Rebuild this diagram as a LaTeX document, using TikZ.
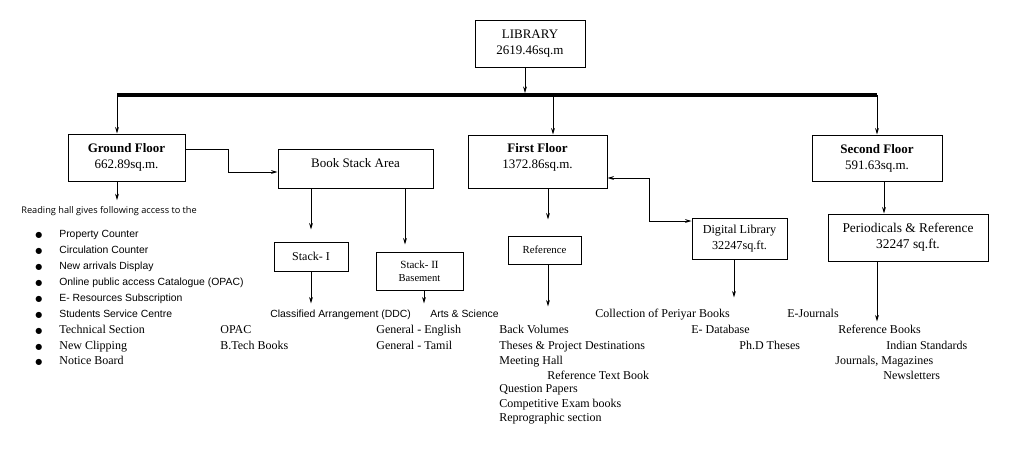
\documentclass[tikz,border=0pt]{standalone}
\usepackage{fontspec}
\setmainfont{Liberation Serif}
\setsansfont{Liberation Sans}
\newfontfamily\opensans{Open Sans}
\newfontfamily\dejavu{DejaVu Sans}
\usetikzlibrary{arrows.meta}

\newcommand{\itm}[1]{\makebox[24pt][l]{\dejavu\fontsize{8}{9}\selectfont ●}#1}

\begin{document}
\begin{tikzpicture}[x=1pt, y=-1pt, >={Stealth[length=6.5pt,width=3.8pt]}, line width=0.7pt,
  box/.style = {draw, line width=1pt, align=center, inner sep=0pt, font=\fontsize{13}{16}\selectfont},
  txt/.style = {anchor=west, inner sep=0pt, text height=12pt, text depth=2.5pt, font=\fontsize{12}{14}\selectfont},
  stxt/.style = {txt, font=\sffamily\fontsize{10.4}{12}\selectfont},
  bar/.style = {line width=4pt}]
    \useasboundingbox (0,0) rectangle (1030,456);
    % boxes
    \node[box, minimum width=110pt, minimum height=47pt] (lib) at (530,43.5) {LIBRARY\\2619.46sq.m};
    \node[box, minimum width=117pt, minimum height=47pt] (gf) at (126.5,157.5) {\textbf{Ground Floor}\\662.89sq.m.};
    \node[box, minimum width=155pt, minimum height=39pt, text depth=12pt] (bsa) at (355.5,168.5) {Book Stack Area};
    \node[box, minimum width=74pt, minimum height=29pt, font=\fontsize{12}{14}\selectfont] (s1) at (311,256.5) {Stack- I};
    \node[box, minimum width=87pt, minimum height=38pt, font=\fontsize{11}{13}\selectfont] (s2) at (419.5,271) {Stack- II\\{\fontsize{10.6}{13}\selectfont Basement}};
    \node[box, minimum width=139pt, minimum height=53pt, text depth=12pt] (ff) at (537.5,161.5) {\textbf{First Floor}\\1372.86sq.m.};
    \node[box, minimum width=73pt, minimum height=28pt, font=\fontsize{10.8}{13}\selectfont] (ref) at (544.5,250) {Reference};
    \node[box, minimum width=95pt, minimum height=41pt, font=\fontsize{12.2}{16}\selectfont] (dl) at (739.5,238.5) {Digital Library\\32247sq.ft.};
    \node[box, minimum width=130pt, minimum height=46pt] (sf) at (877,158) {\textbf{Second Floor}\\591.63sq.m.};
    \node[box, minimum width=160pt, minimum height=47pt, font=\fontsize{13.4}{16}\selectfont] (per) at (908,237.5) {Periodicals \& Reference\\32247 sq.ft.};
    % ground floor list
    \node[txt, font=\opensans\fontsize{9.2}{11}\selectfont, text height=9pt, text depth=2pt] (rh) at (21,210) {Reading hall gives following access to the};
    \node[stxt] (g1) at (35,233) {\itm{Property Counter}};
    \node[stxt] (g2) at (35,249) {\itm{Circulation Counter}};
    \node[stxt] (g3) at (35,265) {\itm{New arrivals Display}};
    \node[stxt] (g4) at (35,281) {\itm{Online public access Catalogue (OPAC)}};
    \node[stxt] (g5) at (35,297) {\itm{E- Resources Subscription}};
    \node[stxt] (g6) at (35,313) {\itm{Students Service Centre}};
    \node[txt] (g7) at (35,329) {\itm{Technical Section}};
    \node[txt] (g8) at (35,345) {\itm{New Clipping}};
    \node[txt] (g9) at (35,360) {\itm{Notice Board}};
    % stacks
    \node[stxt] (cls) at (270,313) {Classified Arrangement (DDC)};
    \node[txt] (opac) at (220,329) {OPAC};
    \node[txt] (btech) at (220,345) {B.Tech Books};
    \node[stxt] (arts) at (430,313) {Arts \& Science};
    \node[txt] (eng) at (376,329) {General - English};
    \node[txt] (tam) at (376,345) {General - Tamil};
    % first floor
    \node[txt] (bv) at (499,329) {Back Volumes};
    \node[txt] (th) at (499,345) {Theses \& Project Destinations};
    \node[txt] (mh) at (499,360) {Meeting Hall};
    \node[txt] (rtb) at (547,375) {Reference Text Book};
    \node[txt] (qp) at (499,388) {Question Papers};
    \node[txt] (ce) at (499,403) {Competitive Exam books};
    \node[txt] (rs) at (499,417) {Reprographic section};
    \node[txt] (col) at (595,313) {Collection of Periyar Books};
    \node[txt] (edb) at (691,329) {E- Database};
    \node[txt] (phd) at (739,345) {Ph.D Theses};
    % second floor
    \node[txt] (ej) at (787,313) {E-Journals};
    \node[txt] (rb) at (838,329) {Reference Books};
    \node[txt] (is) at (886,345) {Indian Standards};
    \node[txt] (jm) at (835,360) {Journals, Magazines};
    \node[txt] (nl) at (883,375) {Newsletters};
    % connectors
    \coordinate (bl) at (117,95);
    \coordinate (br) at (877,95);
    \draw[bar] (bl) -- (br);
    \draw[->, shorten >=2pt] ([xshift=-5pt]lib.south) -- ([xshift=-5pt]lib.south |- bl);
    \draw[->] (bl) -- (bl |- gf.north);
    \draw[->] ([xshift=15.5pt]ff.north |- bl) -- ([xshift=15.5pt]ff.north);
    \draw[->] (br) -- (sf.north);
    \draw[->, shorten >=4pt] ([xshift=-9.5pt]gf.south) -- ([xshift=-9.5pt]gf.south |- rh.north);
    \draw[->] ([yshift=8.5pt]gf.east) -- ++(43,0) |- ([yshift=-3.5pt]bsa.west);
    \draw[->, shorten >=12pt] (s1 |- bsa.south) -- (s1.north);
    \draw[->, shorten >=7pt] ([xshift=-14.5pt]s2.north |- bsa.south) -- ([xshift=-14.5pt]s2.north);
    \draw[->, shorten >=2pt] (s1.south) -- (s1.south |- cls.north);
    \draw[->, shorten >=2pt] ([xshift=4.5pt]s2.south) -- ([xshift=4.5pt]s2.south |- arts.north);
    \draw[->, shorten >=16pt] ([xshift=3.5pt]ref.north |- ff.south) -- ([xshift=3.5pt]ref.north);
    \draw[->, shorten >=15pt] ([xshift=3.5pt]ref.south) -- ([xshift=3.5pt]ref.south |- bv.north);
    \draw[<->] ([yshift=-16.5pt]ff.east) -- ++(42,0) |- ([yshift=17.5pt]dl.west);
    \draw[->, shorten >=8pt] ([xshift=-5.5pt]dl.south) -- ([xshift=-5.5pt]dl.south |- col.north);
    \draw[->] ([xshift=7pt]sf.south) -- ([xshift=7pt]sf.south |- per.north);
    \draw[->] ([xshift=-31pt]per.south) -- ([xshift=-31pt]per.south |- rb.north);
\end{tikzpicture}
\end{document}
